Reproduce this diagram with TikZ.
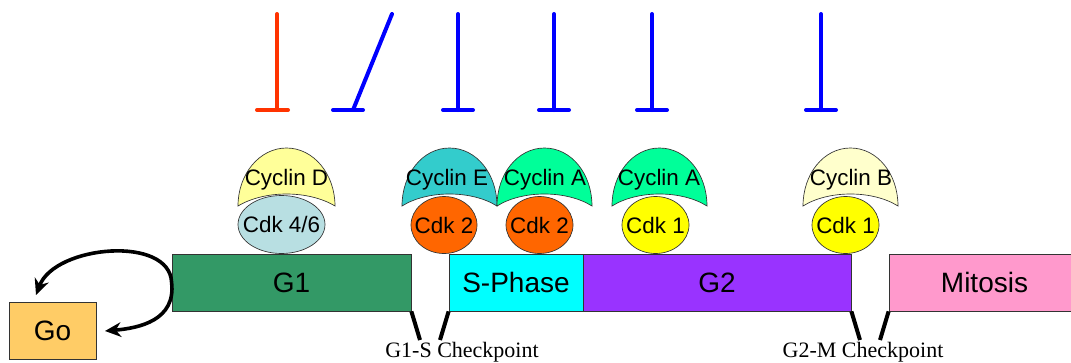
\documentclass[tikz,border=0pt]{standalone}
\usepackage{fontspec}
\setmainfont{Liberation Serif}
\newfontfamily\arialf{Liberation Sans}
\usetikzlibrary{shapes.geometric,arrows.meta}
\definecolor{gone}{HTML}{339966}
\definecolor{sph}{HTML}{00FFFF}
\definecolor{gtwo}{HTML}{9933FF}
\definecolor{mit}{HTML}{FF99CC}
\definecolor{goc}{HTML}{FFCC66}
\definecolor{cycD}{HTML}{FFFF99}
\definecolor{cycE}{HTML}{33CCCC}
\definecolor{cycA}{HTML}{00FF99}
\definecolor{cycB}{HTML}{FFFFCC}
\definecolor{cdkF}{HTML}{B8DFE2}
\definecolor{cdkT}{HTML}{FF6600}
\definecolor{cdkO}{HTML}{FFFF00}
\definecolor{inhR}{HTML}{FF3300}
\definecolor{inhB}{HTML}{0000FF}
\definecolor{edge}{HTML}{333333}
\tikzset{
  phase/.style={draw=edge, line width=0.6pt, rectangle, inner sep=0pt,
    font=\arialf\fontsize{21}{25}\selectfont},
  cdk/.style={draw=edge, line width=0.5pt, ellipse, inner sep=0pt},
  cyclab/.style={inner sep=0pt, font=\arialf\fontsize{16.8}{19}\selectfont},
  cycshape/.style={draw=edge, line width=0.5pt},
  inhib/.style={line width=3pt, line cap=round},
  chk/.style={line width=3pt, black},
  chklab/.style={anchor=base, inner sep=0pt, font=\fontsize{16.5}{19}\selectfont},
  loop/.style={line width=2.7pt, {Stealth[length=12pt,width=11pt]}-{Stealth[length=12pt,width=11pt]}}
}
\newcommand\cycdome[3]{%
  \draw[cycshape, fill=#3] (#1,206) .. controls (#1,174) and ({(#1+#2)/2-27},148) .. ({(#1+#2)/2},148)
    .. controls ({(#1+#2)/2+27},148) and (#2,174) .. (#2,206)
    .. controls ({(#1+#2)/2+22},190) and ({(#1+#2)/2-22},190) .. cycle;}
\begin{document}
\begin{tikzpicture}[x=0.75pt,y=-0.75pt]
\useasboundingbox (0,0) rectangle (1071,362);
\clip (0,0) rectangle (1071,362);
% inhibitor bars
\coordinate (r1t) at (277,14); \coordinate (r1b) at (277,110);
\coordinate (r1l) at (257,110); \coordinate (r1r) at (288,110);
\draw[inhib, inhR] (r1t) -- (r1b); \draw[inhib, inhR] (r1l) -- (r1r);
\coordinate (b1t) at (392,14); \coordinate (b1b) at (353,110);
\coordinate (b1l) at (333,110); \coordinate (b1r) at (363,110);
\draw[inhib, inhB] (b1t) -- (b1b); \draw[inhib, inhB] (b1l) -- (b1r);
\foreach \x/\n in {458/b2,554/b3,652/b4,821/b5}{
  \coordinate (\n t) at (\x,14); \coordinate (\n b) at (\x,110);
  \coordinate (\n l) at ({\x-15},110); \coordinate (\n r) at ({\x+15},110);
  \draw[inhib, inhB] (\n t) -- (\n b); \draw[inhib, inhB] (\n l) -- (\n r);
}
% phase bars
\node[phase, fill=gone, minimum width={239*0.75pt}, minimum height={57*0.75pt}] (G1) at (291.5,282.5) {G1};
\node[phase, fill=sph, minimum width={134*0.75pt}, minimum height={57*0.75pt}] (S) at (516,282.5) {S-Phase};
\node[phase, fill=gtwo, minimum width={268*0.75pt}, minimum height={57*0.75pt}] (G2) at (717,282.5) {G2};
\node[phase, fill=mit, minimum width={191*0.75pt}, minimum height={57*0.75pt}] (M) at (984.5,282.5) {Mitosis};
\node[phase, fill=goc, minimum width={87*0.75pt}, minimum height={57*0.75pt}] (Go) at (52.5,330.5) {Go};
% cyclins
\cycdome{238}{335}{cycD}
\cycdome{402}{497}{cycE}
\cycdome{497}{592}{cycA}
\cycdome{612}{707}{cycA}
\cycdome{803}{898}{cycB}
\node[cyclab] (cD) at (286.5,180) {Cyclin D};
\node[cyclab] (cE) at (447,180) {Cyclin E};
\node[cyclab] (cA1) at (545,180) {Cyclin A};
\node[cyclab] (cA2) at (659,180) {Cyclin A};
\node[cyclab] (cB) at (851,180) {Cyclin B};
% cdks
\node[cdk, fill=cdkF, minimum width={87*0.75pt}, minimum height={58*0.75pt}] (k46) at (281.5,224.5) {};
\node[cdk, fill=cdkT, minimum width={66*0.75pt}, minimum height={57*0.75pt}] (k2a) at (444,225) {};
\node[cdk, fill=cdkT, minimum width={67*0.75pt}, minimum height={57*0.75pt}] (k2b) at (539.5,225) {};
\node[cdk, fill=cdkO, minimum width={67*0.75pt}, minimum height={57*0.75pt}] (k1a) at (655.5,225) {};
\node[cdk, fill=cdkO, minimum width={67*0.75pt}, minimum height={57*0.75pt}] (k1b) at (845.5,225) {};
\node[cyclab] (t46) at (k46) {Cdk 4/6};
\node[cyclab] (t2a) at (k2a) {Cdk 2};
\node[cyclab] (t2b) at (k2b) {Cdk 2};
\node[cyclab] (t1a) at (k1a) {Cdk 1};
\node[cyclab] (t1b) at (k1b) {Cdk 1};
% Go loop
\coordinate (ga) at (36,295);
\coordinate (gb) at (105,331);
\draw[loop] (ga) .. controls (55,245) and (170,235) .. (G1.west) .. controls (176,320) and (140,328) .. (gb);
% checkpoints
\coordinate (c1) at (420,340); \coordinate (c2) at (440,340);
\coordinate (c3) at (860,340); \coordinate (c4) at (880,340);
\draw[chk] (G1.south east) -- (c1);
\draw[chk] (S.south west) -- (c2);
\draw[chk] (G2.south east) -- (c3);
\draw[chk] (M.south west) -- (c4);
\node[chklab] (l1) at (462,357) {G1-S Checkpoint};
\node[chklab] (l2) at (863,357) {G2-M Checkpoint};
\end{tikzpicture}
\end{document}
